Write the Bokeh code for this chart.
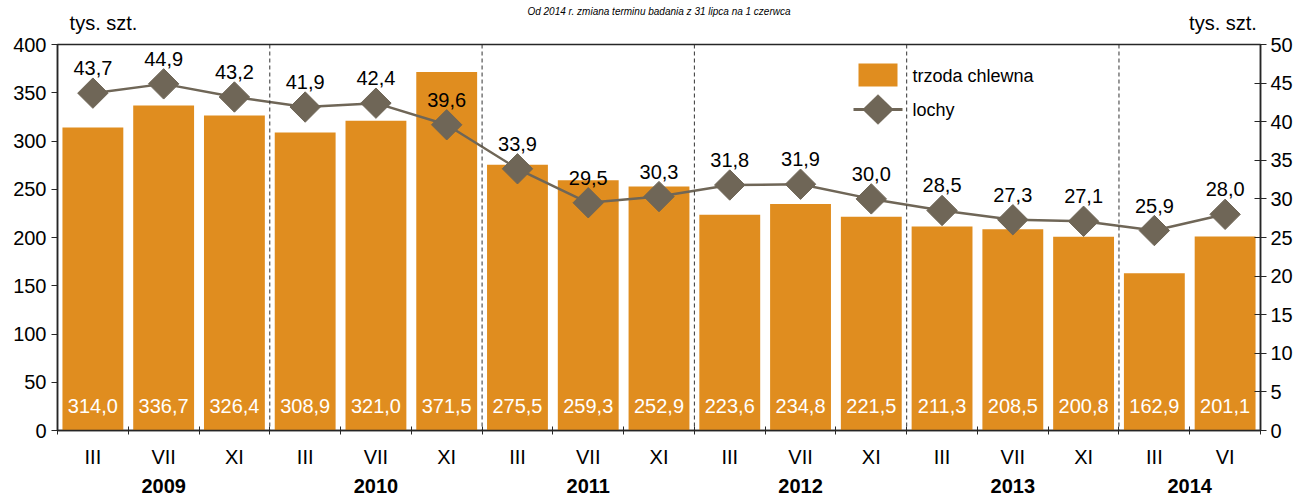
import math
from bokeh.plotting import figure
from bokeh.models import (Range1d, LinearAxis, FixedTicker, Span, Label,
                          BoxAnnotation, PolyAnnotation)
from bokeh.core.properties import value
from bokeh.embed import file_html
from bokeh.resources import INLINE

# ---- data ----
months = ["III", "VII", "XI", "III", "VII", "XI", "III", "VII", "XI",
          "III", "VII", "XI", "III", "VII", "XI", "III", "VI"]
years = ["2009", "2010", "2011", "2012", "2013", "2014"]
year_sizes = [3, 3, 3, 3, 3, 2]
pigs = [314.0, 336.7, 326.4, 308.9, 321.0, 371.5, 275.5, 259.3, 252.9,
        223.6, 234.8, 221.5, 211.3, 208.5, 200.8, 162.9, 201.1]
sows = [43.7, 44.9, 43.2, 41.9, 42.4, 39.6, 33.9, 29.5, 30.3,
        31.8, 31.9, 30.0, 28.5, 27.3, 27.1, 25.9, 28.0]
series_names = ["trzoda chlewna", "lochy"]
title_text = "Od 2014 r. zmiana terminu badania z 31 lipca na 1 czerwca"
unit_text = "tys. szt."

n = len(months)
xc = [i + 0.5 for i in range(n)]
fmt = lambda v: f"{v:.1f}".replace(".", ",")

bounds = []
centers = []
acc = 0
for s in year_sizes:
    centers.append(acc + s / 2)
    acc += s
    bounds.append(acc)
bounds = bounds[:-1]

FONT = "Liberation Sans"
ORANGE = "#E08D1F"
GREY = "#6F6657"
AX = "#262626"
FS = "20px"

p = figure(width=1300, height=499, x_range=Range1d(0, n), y_range=Range1d(0, 400),
           output_backend="svg", toolbar_location=None,
           min_border_left=57, min_border_right=40, min_border_top=44, min_border_bottom=69,
           x_axis_type=None, y_axis_type=None)
p.extra_y_ranges = {"r": Range1d(0, 50)}
p.xgrid.visible = False
p.ygrid.visible = False
p.outline_line_color = AX
p.outline_line_width = 1.5
p.background_fill_color = "white"
p.border_fill_color = "white"


def bare_axis(ticks, labels, size, standoff, style="normal", tick_out=0):
    ax = LinearAxis(ticker=FixedTicker(ticks=ticks),
                    major_label_overrides={t: s for t, s in zip(ticks, labels)})
    ax.axis_line_color = None
    ax.major_tick_line_color = None
    ax.minor_tick_line_color = None
    ax.major_tick_in = 0
    ax.major_tick_out = tick_out
    ax.minor_tick_in = 0
    ax.minor_tick_out = 0
    ax.major_label_standoff = standoff
    ax.major_label_text_font = FONT
    ax.major_label_text_font_size = size
    ax.major_label_text_font_style = style
    ax.major_label_text_color = "black"
    return ax


# bottom: month axis with boundary ticks
xax = LinearAxis(ticker=FixedTicker(ticks=xc, minor_ticks=list(range(n + 1))),
                 major_label_overrides={x: m for x, m in zip(xc, months)})
xax.major_tick_in = 0
xax.major_tick_out = 0
xax.minor_tick_in = 4
xax.minor_tick_out = 4
xax.minor_tick_line_color = AX
xax.axis_line_color = AX
xax.axis_line_width = 1.5
xax.major_label_standoff = 11
xax.major_label_text_font = FONT
xax.major_label_text_font_size = FS
xax.major_label_text_color = "black"
p.add_layout(xax, "below")
p.add_layout(bare_axis(centers, years, FS, 8, "bold"), "below")

# top: unit labels, then (clipped-in-reference) subtitle
unit_pos = [0.65, 16.47]
p.add_layout(bare_axis(unit_pos, [unit_text, unit_text], FS, 11), "above")
p.add_layout(bare_axis([n / 2], [title_text], "10px", -8, "italic"), "above")

lax = LinearAxis(ticker=FixedTicker(ticks=list(range(0, 401, 50))))
lax.major_tick_in = 0
lax.major_tick_out = 6
lax.minor_tick_line_color = None
lax.axis_line_color = AX
lax.axis_line_width = 1.5
lax.major_tick_line_color = AX
lax.major_label_standoff = 5
lax.major_label_text_font = FONT
lax.major_label_text_font_size = FS
lax.major_label_text_color = "black"
p.add_layout(lax, "left")

rax = LinearAxis(y_range_name="r", ticker=FixedTicker(ticks=list(range(0, 51, 5))))
rax.major_tick_in = 6
rax.major_tick_out = 6
rax.minor_tick_line_color = None
rax.axis_line_color = AX
rax.axis_line_width = 1.5
rax.major_tick_line_color = AX
rax.major_label_standoff = 4
rax.major_label_text_font = FONT
rax.major_label_text_font_size = FS
rax.major_label_text_color = "black"
p.add_layout(rax, "right")

# year separators
for b in bounds:
    p.add_layout(Span(location=b, dimension="height", line_color="#333333",
                      line_width=1, line_dash="4 3"))

# bars
bars = p.vbar(x=xc, top=pigs, width=0.86, fill_color=ORANGE, line_color=None)
p.text(x=xc, y=[0] * n, text=[fmt(v) for v in pigs], y_offset=-25,
       text_align="center", text_baseline="middle", text_color="white",
       text_font=value(FONT), text_font_size=FS)

# line + diamonds
line_r = p.line(x=xc, y=sows, y_range_name="r", line_color=GREY, line_width=2.5)
sc_r = p.scatter(x=xc, y=sows, y_range_name="r", marker="square", angle=math.pi / 4,
                 size=21.5, fill_color=GREY, line_color=GREY)
p.text(x=xc, y=sows, y_range_name="r", text=[fmt(v) for v in sows], y_offset=-25,
       text_align="center", text_baseline="middle", text_color="black",
       text_font=value(FONT), text_font_size=FS)

# manual legend (screen units, relative to plot frame, y up from frame bottom)
p.add_layout(BoxAnnotation(left=801, right=840, bottom=344, top=367,
                           left_units="screen", right_units="screen",
                           bottom_units="screen", top_units="screen",
                           fill_color=ORANGE, fill_alpha=1, line_color=None))
p.add_layout(BoxAnnotation(left=796, right=845, bottom=319.5, top=322.5,
                           left_units="screen", right_units="screen",
                           bottom_units="screen", top_units="screen",
                           fill_color=GREY, fill_alpha=1, line_color=None))
p.add_layout(PolyAnnotation(xs=[820.5, 836, 820.5, 805], ys=[336, 321, 306, 321],
                            xs_units="screen", ys_units="screen",
                            fill_color=GREY, fill_alpha=1, line_color=GREY))
p.add_layout(Label(x=855, y=355, x_units="screen", y_units="screen", text=series_names[0],
                   text_font=FONT, text_font_size="18px", text_baseline="middle",
                   text_color="black"))
p.add_layout(Label(x=855, y=321, x_units="screen", y_units="screen", text=series_names[1],
                   text_font=FONT, text_font_size="18px", text_baseline="middle",
                   text_color="black"))

open("out.html", "w").write(file_html(p, INLINE))
